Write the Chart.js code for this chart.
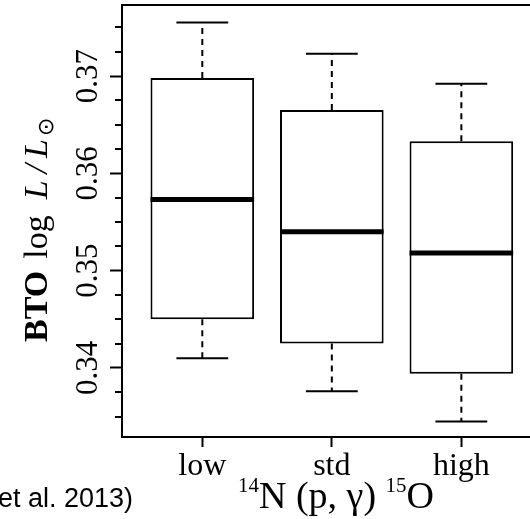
<!DOCTYPE html>
<html>
<head>
<meta charset="utf-8">
<script src="https://cdn.jsdelivr.net/npm/chart.js@4.4.1/dist/chart.umd.min.js"></script>
<style>
  html, body { margin: 0; padding: 0; background: #fff; overflow: hidden; }
  #wrap { width: 530px; height: 519px; }
</style>
</head>
<body>
<div id="wrap"><canvas id="box" width="530" height="519"></canvas></div>
<script>
// boxplot stats
const categories = ['low', 'std', 'high'];
const whiskerLow = [0.3410, 0.3376, 0.3345];
const quartile1 = [0.3450, 0.3425, 0.3394];
const medians = [0.3573, 0.3540, 0.3518];
const quartile3 = [0.3698, 0.3665, 0.3633];
const whiskerHigh = [0.3755, 0.3723, 0.3692];
const yMajorTicks = [0.34, 0.35, 0.36, 0.37];
const yMinorTicks = [0.335, 0.3375, 0.3425, 0.345, 0.3475, 0.3525, 0.355, 0.3575,
  0.3625, 0.365, 0.3675, 0.3725, 0.375];

const serif = '"Liberation Serif", "DejaVu Serif", serif';
const pos = categories.map((c, i) => i + 1);

const boxes = pos.map((x, i) => ({ x: x, y: [quartile1[i], quartile3[i]] }));

// horizontal segments (median, staples), broken by null points
function hsegs(values, half) {
  const out = [];
  pos.forEach((x, i) => {
    out.push({ x: x - half, y: values[i] }, { x: x + half, y: values[i] }, { x: x + half, y: null });
  });
  return out;
}
const stems = [];
pos.forEach((x, i) => {
  stems.push({ x: x, y: quartile3[i] }, { x: x, y: whiskerHigh[i] }, { x: x, y: null });
  stems.push({ x: x, y: quartile1[i] }, { x: x, y: whiskerLow[i] }, { x: x, y: null });
});
const staples = hsegs(whiskerHigh, 0.2).concat(hsegs(whiskerLow, 0.2));

const lineBase = { type: 'line', borderColor: '#000', pointRadius: 0, tension: 0, spanGaps: false, borderCapStyle: 'butt' };

const decorations = {
  id: 'decorations',
  afterDraw(chart) {
    const { ctx, chartArea } = chart;
    const y = chart.scales.y;
    ctx.save();
    ctx.strokeStyle = '#000';
    ctx.lineWidth = 2;
    // top frame line
    ctx.beginPath();
    ctx.moveTo(chartArea.left - 1, chartArea.top);
    ctx.lineTo(chartArea.right, chartArea.top);
    ctx.stroke();
    // minor ticks
    yMinorTicks.forEach(v => {
      const py = Math.round(y.getPixelForValue(v));
      ctx.beginPath();
      ctx.moveTo(chartArea.left - 7, py);
      ctx.lineTo(chartArea.left, py);
      ctx.stroke();
    });
    ctx.fillStyle = '#000';
    // rotated y tick labels
    ctx.font = '31px ' + serif;
    ctx.textAlign = 'center';
    ctx.textBaseline = 'alphabetic';
    yMajorTicks.forEach(v => {
      ctx.save();
      ctx.translate(97, y.getPixelForValue(v));
      ctx.rotate(-Math.PI / 2);
      ctx.fillText(v.toFixed(2), 0, 0);
      ctx.restore();
    });

    // y title: BTO log L/L_sun
    ctx.save();
    ctx.translate(47, 342);
    ctx.rotate(-Math.PI / 2);
    ctx.textAlign = 'left';
    let cx = 0;
    const run = (t, font, gap, dy) => {
      ctx.font = font;
      ctx.fillText(t, cx, dy || 0);
      cx += ctx.measureText(t).width + (gap || 0);
    };
    run('BTO', 'bold 34px ' + serif, 12);
    run('log', '34px ' + serif, 16);
    run('L', 'italic 34px ' + serif, 7);
    run('/', 'italic 34px ' + serif, 6);
    run('L', 'italic 34px ' + serif, 3);
    run('\u2299', '22px "DejaVu Sans", sans-serif', 0, 6);
    ctx.restore();

    // x title: 14N (p, gamma) 15O
    cx = 238;
    const xrun = (t, font, dy) => {
      ctx.font = font;
      ctx.fillText(t, cx, 508 + (dy || 0));
      cx += ctx.measureText(t).width;
    };
    ctx.textAlign = 'left';
    xrun('14', '21px ' + serif, -16);
    xrun('N (p, \u03b3) ', '38px ' + serif);
    xrun('15', '21px ' + serif, -16);
    xrun('O', '38px ' + serif);

    // cropped citation from the slide
    ctx.font = '27px "Liberation Sans", Arial, sans-serif';
    ctx.textAlign = 'right';
    ctx.fillText('et al. 2013)', 133, 507);
    ctx.restore();
  }
};

new Chart(document.getElementById('box'), {
  type: 'bar',
  data: {
    datasets: [
      {
        data: boxes,
        backgroundColor: '#fff',
        borderColor: '#000',
        borderWidth: 2,
        borderSkipped: false,
        barPercentage: 0.8,
        categoryPercentage: 1,
        order: 3
      },
      Object.assign({}, lineBase, { data: stems, borderWidth: 2, borderDash: [6, 5], order: 2 }),
      Object.assign({}, lineBase, { data: staples, borderWidth: 2, order: 1 }),
      Object.assign({}, lineBase, { data: hsegs(medians, 0.4), borderWidth: 5, order: 0 })
    ]
  },
  options: {
    responsive: false,
    animation: false,
    layout: { padding: { top: 5, right: 0, left: 0, bottom: 0 } },
    plugins: { legend: { display: false }, tooltip: { enabled: false } },
    scales: {
      x: {
        type: 'linear',
        min: 0.38,
        max: 3.53,
        offset: false,
        afterBuildTicks: s => { s.ticks = pos.map(v => ({ value: v })); },
        afterFit: s => { s.height = 82; },
        grid: { drawOnChartArea: false, offset: false, tickLength: 10, tickWidth: 2, tickColor: '#000' },
        border: { display: true, color: '#000', width: 2 },
        ticks: {
          autoSkip: false,
          maxRotation: 0,
          padding: 0,
          color: '#000',
          font: { family: serif, size: 32 },
          callback: v => categories[v - 1]
        }
      },
      y: {
        min: 0.3329,
        max: 0.3773,
        afterBuildTicks: s => { s.ticks = yMajorTicks.map(v => ({ value: v })); },
        afterFit: s => { s.width = 122; },
        grid: { drawOnChartArea: false, tickLength: 12, tickWidth: 2, tickColor: '#000' },
        border: { display: true, color: '#000', width: 2 },
        ticks: { display: false }
      }
    }
  },
  plugins: [decorations]
});
</script>
</body>
</html>
